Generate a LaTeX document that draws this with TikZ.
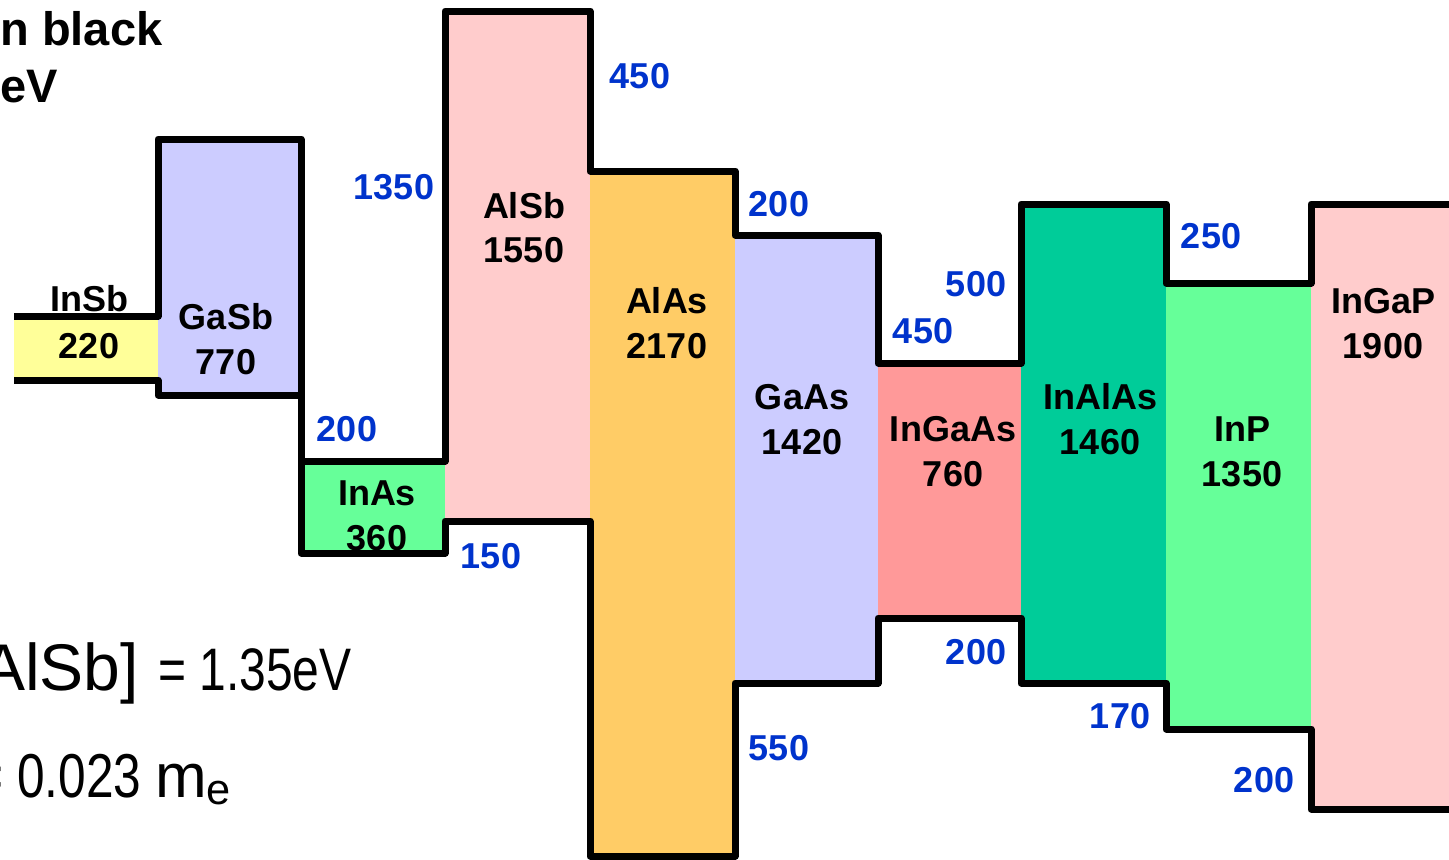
\documentclass[tikz,border=0pt]{standalone}
\usepackage{fontspec}
\setmainfont{Liberation Sans}
\newfontfamily\narrowfont[FakeStretch=0.8]{Liberation Sans}
\definecolor{InSbClr}{HTML}{FFFF99}
\definecolor{LavClr}{HTML}{CCCCFF}
\definecolor{GreenClr}{HTML}{66FF99}
\definecolor{PinkClr}{HTML}{FFCCCC}
\definecolor{AlAsClr}{HTML}{FFCC66}
\definecolor{InGaAsClr}{HTML}{FF9999}
\definecolor{InAlAsClr}{HTML}{00CC99}
\definecolor{OffClr}{HTML}{0033CC}

\begin{document}
\begin{tikzpicture}[x=0.5pt,y=-0.5pt,
  mat/.style={font=\fontsize{18}{20}\selectfont\bfseries,inner sep=0pt,anchor=base},
  off/.style={mat,text=OffClr},
  note/.style={font=\fontsize{23.5}{26}\selectfont\bfseries,inner sep=0pt,anchor=base west},
  band/.style={line width=3.5pt,line join=round}]
\useasboundingbox (0,0) rectangle (1449,859);
\clip (0,0) rectangle (1449,859);

% layers
\foreach \xa/\xb/\ya/\yb/\clr in {14/158/316/380/InSbClr,158/301/139/395/LavClr,
  301/445/461/553/GreenClr,445/590/11/521/PinkClr,590/735/171/856/AlAsClr,
  735/878/235/683/LavClr,878/1021/363/618/InGaAsClr,1021/1166/204/683/InAlAsClr,
  1166/1311/283/729/GreenClr,1311/1460/204/809/PinkClr}
  \fill[\clr] (\xa,\ya) rectangle (\xb,\yb);

% materials and gaps in meV
\foreach \nm/\x/\ya/\yb/\txt/\val in {insb/89/311/358/InSb/220,gasb/226/329/374/GaSb/770,
  inas/377/505/550/InAs/360,alsb/524/218/262/AlSb/1550,alas/667/313/358/AlAs/2170,
  gaas/802/409/454/GaAs/1420,ingaas/953/441/486/InGaAs/760,inalas/1100/409/454/InAlAs/1460,
  inp/1242/441/486/InP/1350,ingap/1383/313/358/InGaP/1900}
  {
  \node[mat] (\nm) at (\x,\ya) {\txt};
  \node[mat] (\nm-gap) at (\x,\yb) {\val};
  }

% band offsets
\foreach \nm/\x/\y/\val in {c1/394/199/1350,c2/640/88/450,c3/779/216/200,c4/976/296/500,
  c5/923/343/450,c6/1211/248/250,v1/347/441/200,v2/491/568/150,v3/976/664/200,
  v4/1120/728/170,v5/779/760/550,v6/1264/792/200}
  \node[off] (\nm) at (\x,\y) {\val};

% conduction and valence band edges
\draw[band] (14,316) -| (158,139) -| (301,461) -| (445,11) -| (590,171) -| (735,235)
  -| (878,363) -| (1021,204) -| (1166,283) -| (1311,204) -- (1460,204);
\draw[band] (14,380) -| (158,395) -| (301,553) -| (445,521) -| (590,856) -| (735,683)
  -| (878,618) -| (1021,683) -| (1166,729) -| (1311,809) -- (1460,809);

\node[note] (head1) at (0,45) {n black};
\node[note] (head2) at (0,102) {eV};

\node[inner sep=0pt,anchor=base east,font={\narrowfont\fontsize{30}{32}\selectfont}] (egap) at (352,690)
  {{\normalfont\fontsize{33}{36}\selectfont AlSb]}\hspace{3pt} = 1.35eV};
\node[inner sep=0pt,anchor=base west,font={\narrowfont\fontsize{31}{33}\selectfont}] (mass) at (-26,797)
  {= 0.023 {\normalfont\fontsize{31}{33}\selectfont m\textsubscript{e}}};
\end{tikzpicture}
\end{document}
